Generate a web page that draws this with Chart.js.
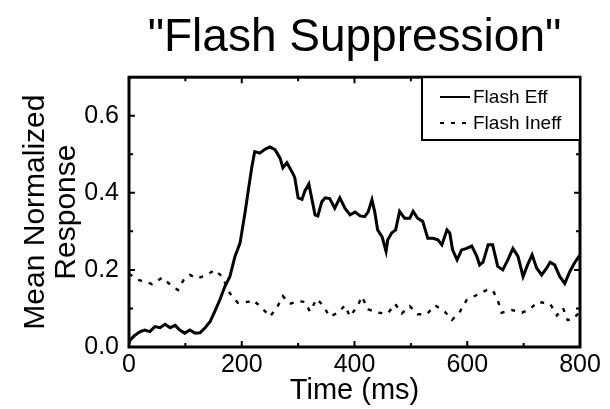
<!DOCTYPE html>
<html>
<head>
<meta charset="utf-8">
<script src="https://cdn.jsdelivr.net/npm/chart.js@4"></script>
<style>
body{margin:0;background:#fff;}
</style>
</head>
<body>
<canvas id="chartFlash" width="610" height="409"></canvas>
<script>

const effTime=[0,2,10,20,28,37,46,55,64,73,82,90,99,108,117,126,135,144,152,161,170,179,188,197,206,211,218,223,232,241,250,259,268,273,280,289,294,300,307,312,319,324,330,335,342,348,356,365,374,383,392,401,410,418,424,431,436,441,449,456,459,466,473,480,489,498,504,512,521,530,539,548,555,564,569,574,582,590,599,608,617,622,628,637,645,654,663,672,681,690,699,707,715,723,732,741,747,755,764,773,782,791,800];
const effValue=[0.01,0.018,0.03,0.04,0.044,0.04,0.053,0.05,0.059,0.05,0.056,0.044,0.036,0.044,0.036,0.037,0.05,0.066,0.092,0.122,0.157,0.183,0.235,0.27,0.35,0.40,0.468,0.507,0.503,0.513,0.519,0.512,0.49,0.465,0.478,0.455,0.44,0.387,0.383,0.405,0.423,0.387,0.343,0.34,0.377,0.387,0.385,0.36,0.387,0.36,0.343,0.35,0.34,0.338,0.35,0.382,0.35,0.304,0.286,0.248,0.278,0.296,0.304,0.352,0.334,0.334,0.352,0.334,0.326,0.282,0.282,0.278,0.265,0.304,0.296,0.252,0.226,0.252,0.256,0.262,0.235,0.213,0.22,0.265,0.265,0.209,0.2,0.226,0.256,0.235,0.183,0.213,0.239,0.205,0.187,0.205,0.22,0.213,0.183,0.165,0.196,0.22,0.239];

const ineffTime=[0,7,16,28,41,59,76,87,99,108,121,138,152,165,179,193,211,220,236,250,262,273,285,300,312,321,333,344,356,371,383,392,406,413,424,440,459,472,484,498,512,528,543,560,573,587,599,617,635,645,654,661,679,697,711,725,747,759,770,778,787,800];
const ineffValue=[0.19,0.183,0.174,0.17,0.163,0.18,0.158,0.148,0.18,0.187,0.178,0.187,0.2,0.183,0.139,0.115,0.117,0.122,0.101,0.079,0.101,0.132,0.112,0.119,0.117,0.092,0.125,0.108,0.079,0.089,0.108,0.079,0.108,0.131,0.098,0.089,0.087,0.112,0.087,0.106,0.085,0.085,0.108,0.092,0.07,0.092,0.122,0.135,0.148,0.148,0.122,0.089,0.096,0.089,0.098,0.117,0.112,0.082,0.101,0.07,0.071,0.092];

const seriesLabels=["Flash Eff","Flash Ineff"];
const xTicks=[0,200,400,600,800];
const yTicks=[0,0.2,0.4,0.6];

const FONT="'Liberation Sans', Arial, sans-serif";

function toPoints(xs,ys){
return xs.map((x,i)=>({x:x,y:ys[i]}));
}

// frame + inward ticks on all four sides, legend box
const framePlugin={
id:"frame",
afterDatasetsDraw(chart){
const ctx=chart.ctx;
const a=chart.chartArea;
const sx=chart.scales.x, sy=chart.scales.y;
ctx.save();
ctx.strokeStyle="#000";
ctx.lineWidth=2;
for(let v=0;v<=800;v+=100){
let px=sx.getPixelForValue(v);
let len=(v%200===0)?6:4;
ctx.beginPath();
ctx.moveTo(px,a.bottom);ctx.lineTo(px,a.bottom-len);
ctx.moveTo(px,a.top);ctx.lineTo(px,a.top+len);
ctx.stroke();
}
for(let k=0;k<=7;k++){
let v=k/10;
let py=sy.getPixelForValue(v);
let len=(k%2===0)?6:4;
ctx.beginPath();
ctx.moveTo(a.left,py);ctx.lineTo(a.left+len,py);
ctx.moveTo(a.right,py);ctx.lineTo(a.right-len,py);
ctx.stroke();
}
ctx.lineWidth=3;
ctx.strokeRect(a.left,a.top,a.right-a.left,a.bottom-a.top);

let bx=422, by=a.top, bw=a.right-422, bh=140-a.top;
ctx.fillStyle="#fff";
ctx.fillRect(bx,by,bw,bh);
ctx.lineWidth=2;
ctx.strokeRect(bx,by,bw,bh);
ctx.font="19px "+FONT;
ctx.textBaseline="middle";
ctx.fillStyle="#000";
chart.data.datasets.forEach((ds,i)=>{
let ly=97+i*26;
ctx.lineWidth=2;
ctx.setLineDash(ds.borderDash||[]);
ctx.beginPath();
ctx.moveTo(440,ly);ctx.lineTo(470,ly);
ctx.stroke();
ctx.setLineDash([]);
ctx.fillText(ds.label,473,ly+1);
});
ctx.restore();
}
};

new Chart(document.getElementById("chartFlash"),{
type:'line',
data:{
datasets:[{
label:seriesLabels[0],
data:toPoints(effTime,effValue),
borderColor:"#000",
borderWidth:3,
pointRadius:0,
tension:0
},{
label:seriesLabels[1],
data:toPoints(ineffTime,ineffValue),
borderColor:"#000",
borderWidth:2.4,
borderDash:[4,7],
pointRadius:0,
tension:0
}]
},
options:{
responsive:false,
animation:false,
layout:{padding:{left:0,right:30,top:0,bottom:0}},
plugins:{
legend:{display:false},
tooltip:{enabled:false},
title:{
display:true,
fullSize:false,
text:'"Flash Suppression"',
color:"#000",
font:{family:FONT,size:46,weight:"normal",lineHeight:1.2},
padding:{top:11,bottom:11}
}
},
scales:{
x:{
type:'linear',
min:0,max:800,
afterFit(scale){scale.height=62;},
afterBuildTicks(scale){scale.ticks=xTicks.map(v=>({value:v}));},
grid:{display:false,drawTicks:false},
border:{display:false},
ticks:{color:"#000",font:{family:FONT,size:25},padding:3,maxRotation:0,callback:v=>String(v)},
title:{display:true,text:"Time (ms)",color:"#000",font:{family:FONT,size:29,lineHeight:1.2},padding:{top:0,bottom:1}}
},
y:{
min:0,max:0.7,
afterFit(scale){scale.width=129;},
afterBuildTicks(scale){scale.ticks=yTicks.map(v=>({value:v}));},
grid:{display:false,drawTicks:false},
border:{display:false},
ticks:{color:"#000",font:{family:FONT,size:25},padding:10,callback:v=>v.toFixed(1)},
title:{display:true,text:["Mean Normalized","Response"],color:"#000",font:{family:FONT,size:30,lineHeight:1.03},padding:{top:20,bottom:0}}
}
}
},
plugins:[framePlugin]
});

</script>
</body>
</html>
